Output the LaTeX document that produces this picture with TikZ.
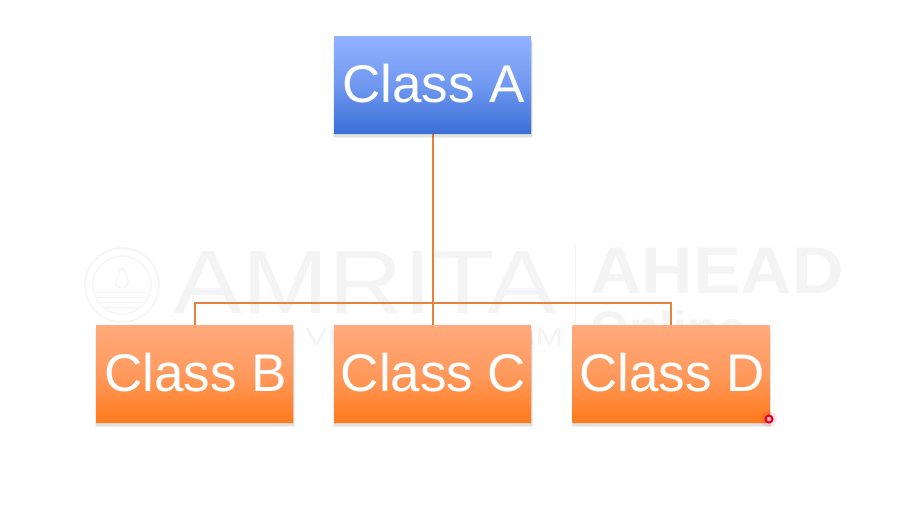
\documentclass[tikz,border=0pt]{standalone}
\usepackage{fontspec}
\setmainfont{Liberation Sans}
\usetikzlibrary{positioning}
\definecolor{linkc}{HTML}{E8803F}
\definecolor{wm}{HTML}{F4F4F4}
\definecolor{bluetop}{HTML}{92B1FF}
\definecolor{bluemid}{HTML}{7199F0}
\definecolor{bluebot}{HTML}{3A6FD8}
\definecolor{orangetop}{HTML}{FFAA7C}
\definecolor{orangemid}{HTML}{FF9A5E}
\definecolor{orangebot}{HTML}{FF7A1C}
\tikzset{
  x=1pt,y=-1pt,
  box/.style={rectangle,minimum width=197pt,minimum height=97pt,inner sep=0pt,text=white,
    font=\fontsize{53pt}{56pt}\selectfont},
  bluebox/.style={box,top color=bluetop,bottom color=bluebot,middle color=bluemid},
  orangebox/.style={box,top color=orangetop,bottom color=orangebot,middle color=orangemid},
  link/.style={draw=linkc,line width=2pt},
  mark wm/.style={text=wm,inner sep=0pt,anchor=base west},
  shadowpart/.style={fill=black,opacity=0.06,draw=none},
}
\newcommand{\boxshadow}[1]{%
  \fill[shadowpart] ([xshift=-0.5pt,yshift=-5pt]#1.south west) rectangle ([xshift=1.5pt,yshift=-6pt]#1.north east);
  \fill[shadowpart] ([yshift=-3.5pt]#1.south west) rectangle ([xshift=1pt,yshift=-5pt]#1.north east);
  \fill[shadowpart] ([xshift=0.5pt,yshift=-2pt]#1.south west) rectangle ([xshift=0.5pt,yshift=-4pt]#1.north east);
}
\newcommand{\lbl}[1]{\hspace*{2pt}\raisebox{2.5pt}{#1}}
\begin{document}
\begin{tikzpicture}
\useasboundingbox[fill=white] (0,0) rectangle (922,507);
% watermark
\node[mark wm,font=\fontsize{90pt}{90pt}\selectfont,xscale=1.15] (wmamrita) at (173,313) {AMRITA};
\node[mark wm,font=\fontsize{66pt}{66pt}\selectfont\bfseries,xscale=1.08] (wmahead) at (590,293) {AHEAD};
\node[mark wm,font=\fontsize{50pt}{50pt}\selectfont\bfseries] (wmonline) at (590,346) {Online};
\node[mark wm,font=\fontsize{25pt}{25pt}\selectfont,xscale=1.33] (wmvidya) at (305,345) {VIDYAPEETHAM};
\node[draw=wm,line width=1.5pt,circle,minimum size=74pt,inner sep=0pt] (seal) at (122,285) {};
\node[draw=wm,line width=1.2pt,circle,minimum size=58pt,inner sep=0pt] (sealin) at (122,285) {};
\foreach \yy/\hw in {292/26,297/24,302/21,307/16}{
  \draw[wm,line width=1pt] (122-\hw,\yy) -- (122+\hw,\yy);
}
\draw[wm,line width=1.2pt] (122,268) .. controls (112,282) and (116,288) .. (122,288) .. controls (128,288) and (132,282) .. (122,268);
\coordinate (divtop) at (575,243);
\coordinate (divbot) at (575,322);
\draw[wm,line width=1pt] (divtop) -- (divbot);
% boxes placed first for names
\path (432.5,84.5) node[box] (A) {};
\path (194.5,373.5) node[box] (B) {};
\path (432.5,373.5) node[box] (C) {};
\path (671,373.5) node[box] (D) {};
\coordinate (busL) at (B.north |- 0,303);
\coordinate (busR) at (D.north |- 0,303);
\draw[link] ([xshift=0.5pt]A.south) -- ([xshift=0.5pt]C.north);
\draw[link] (B.north) -- (busL) -- (busR) -- (D.north);
\boxshadow{A}\boxshadow{B}\boxshadow{C}\boxshadow{D}
\node[bluebox] at (A) {\lbl{Class A}};
\node[orangebox] at (B) {\lbl{Class B}};
\node[orangebox] at (C) {\lbl{Class C}};
\node[orangebox] at (D) {\lbl{Class D}};
% pointer
\fill[red,opacity=0.10] (769,419) circle (8pt);
\node[circle,draw={rgb,255:red,225;green,0;blue,40},fill=white!70!red,line width=2pt,minimum size=7pt,inner sep=0pt] (pointer) at (769,419) {};
\end{tikzpicture}
\end{document}
